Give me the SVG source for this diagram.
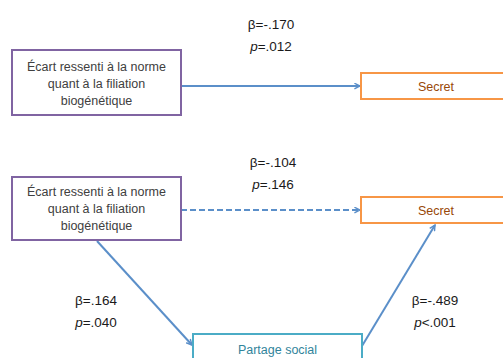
<svg xmlns="http://www.w3.org/2000/svg" width="503" height="358" viewBox="0 0 503 358">
<defs>
<marker id="ah" viewBox="0 0 10 10" refX="9" refY="5" markerWidth="7" markerHeight="7" markerUnits="userSpaceOnUse" orient="auto">
<path d="M1,1 L9,5 L1,9" fill="none" stroke="#5B8FC9" stroke-width="2"/>
</marker>
</defs>
<style>
.lbl{font-family:"Liberation Sans",Arial,sans-serif;font-size:13.5px;fill:#1a1a1a;text-anchor:middle}
.nt{font-family:"Liberation Sans",Arial,sans-serif;font-size:12.5px;text-anchor:middle}
.pur{fill:#fff;stroke:#8064A2;stroke-width:2}
.org{fill:#fff;stroke:#F79646;stroke-width:2}
.tea{fill:#fff;stroke:#4BACC6;stroke-width:2}
.con{stroke:#5B8FC9;stroke-width:2;fill:none;marker-end:url(#ah)}
</style>
<rect width="503" height="358" fill="#fff"/>
<g id="connectors">
<line class="con" x1="181" y1="86" x2="360" y2="86"/>
<line class="con" x1="181" y1="210" x2="360" y2="210" stroke-dasharray="6,3"/>
<line class="con" x1="97" y1="241" x2="192" y2="345"/>
<line class="con" x1="362" y1="346" x2="435" y2="225"/>
</g>
<g id="n1">
<rect class="pur" x="12" y="50" width="169" height="65"/>
<text class="nt" fill="#404040" x="96.5" y="71">Écart ressenti à la norme</text>
<text class="nt" fill="#404040" x="96.5" y="88">quant à la filiation</text>
<text class="nt" fill="#404040" x="96.5" y="105">biogénétique</text>
</g>
<g id="n2">
<rect class="org" x="361" y="73" width="150" height="26"/>
<text class="nt" fill="#984807" x="436" y="91">Secret</text>
</g>
<g id="n3">
<rect class="pur" x="12" y="177" width="169" height="63"/>
<text class="nt" fill="#404040" x="96.5" y="196">Écart ressenti à la norme</text>
<text class="nt" fill="#404040" x="96.5" y="213">quant à la filiation</text>
<text class="nt" fill="#404040" x="96.5" y="230">biogénétique</text>
</g>
<g id="n4">
<rect class="org" x="361" y="197" width="150" height="26"/>
<text class="nt" fill="#984807" x="436" y="215">Secret</text>
</g>
<g id="n5">
<rect class="tea" x="193" y="334" width="169" height="40"/>
<text class="nt" fill="#31849B" x="277.5" y="354">Partage social</text>
</g>
<g id="labels">
<text class="lbl" x="271" y="29">β=-.170</text>
<text class="lbl" x="271" y="51"><tspan font-style="italic">p</tspan>=.012</text>
<text class="lbl" x="273" y="167">β=-.104</text>
<text class="lbl" x="273" y="189"><tspan font-style="italic">p</tspan>=.146</text>
<text class="lbl" x="96" y="305">β=.164</text>
<text class="lbl" x="96" y="327"><tspan font-style="italic">p</tspan>=.040</text>
<text class="lbl" x="435" y="305">β=-.489</text>
<text class="lbl" x="435" y="327"><tspan font-style="italic">p</tspan>&lt;.001</text>
</g>
</svg>
